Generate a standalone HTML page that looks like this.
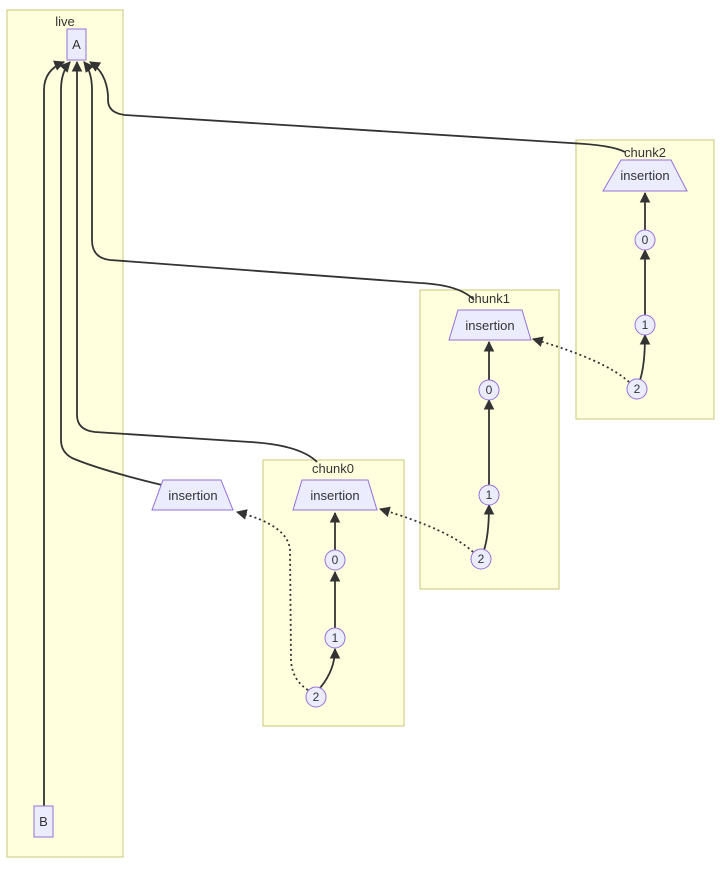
<!DOCTYPE html>
<html><head><meta charset="utf-8"><style>
html,body{margin:0;padding:0;background:#fff;}
svg{display:block;}
text{font-family:"Liberation Sans",sans-serif;fill:#333;}
.cl{fill:#ffffde;stroke:#c8c87a;stroke-width:1;}
.nd{fill:#ececff;stroke:#9370db;stroke-width:1;}
.e{fill:none;stroke:#333;stroke-width:1.8;}
.d{fill:none;stroke:#333;stroke-width:1.8;stroke-dasharray:2 3;}
</style></head><body>
<svg width="723" height="869" viewBox="0 0 723 869" xmlns="http://www.w3.org/2000/svg">
<defs>
<marker id="ar" viewBox="0 0 10 10" refX="9" refY="5" markerWidth="6" markerHeight="6" orient="auto"><path d="M0,0L10,5L0,10z" fill="#333"/></marker>
</defs>
<rect class="cl" x="7" y="10" width="116" height="847"/>
<text x="65" y="26" font-size="13" text-anchor="middle">live</text>
<rect class="cl" x="263" y="460" width="141" height="266"/>
<rect class="cl" x="420" y="290" width="139" height="299"/>
<rect class="cl" x="576" y="140" width="138" height="279"/>
<path class="e" d="M44,806 L44,90 Q44,70 64,62" marker-end="url(#ar)"/>
<path class="e" d="M162,485 Q100,470 72,458 Q61,452 61,440 L61,90 Q61,72 70,62" marker-end="url(#ar)"/>
<path class="e" d="M317,462 Q300,445 250,442 L95,432 Q77,430 77,415 L77,62" marker-end="url(#ar)"/>
<path class="e" d="M474,300 Q460,285 420,283 L110,260 Q92,258 92,240 L92,90 Q92,72 84,62" marker-end="url(#ar)"/>
<path class="e" d="M625,152 Q612,145 570,143 L125,115 Q108,113 108,100 L108,95 Q106,72 90,62" marker-end="url(#ar)"/>
<rect class="nd" x="67" y="29" width="19" height="31"/>
<text x="76.5" y="49" font-size="13" text-anchor="middle">A</text>
<rect class="nd" x="34" y="806" width="19" height="31"/>
<text x="43.5" y="826" font-size="13" text-anchor="middle">B</text>
<polygon class="nd" points="163,480 221,480 233,510 152,510"/>
<text x="193" y="500" font-size="13" text-anchor="middle">insertion</text>
<path class="e" d="M335,551 L335,513" marker-end="url(#ar)"/>
<path class="e" d="M335,629 L335,572" marker-end="url(#ar)"/>
<path class="e" d="M320,688 Q335,670 335,649" marker-end="url(#ar)"/>
<path class="d" d="M308,690 Q292,680 291,660 L290,550 Q288,525 237,512" marker-end="url(#ar)"/>
<polygon class="nd" points="302,480 368,480 377,510 293,510"/>
<text x="333" y="473" font-size="13" text-anchor="middle">chunk0</text>
<text x="335" y="500" font-size="13" text-anchor="middle">insertion</text>
<circle class="nd" cx="335" cy="560" r="10"/><text x="335" y="564" font-size="12" text-anchor="middle">0</text>
<circle class="nd" cx="335" cy="638" r="10"/><text x="335" y="642" font-size="12" text-anchor="middle">1</text>
<circle class="nd" cx="316" cy="697" r="10"/><text x="316" y="701" font-size="12" text-anchor="middle">2</text>
<path class="e" d="M489,381 L489,342" marker-end="url(#ar)"/>
<path class="e" d="M489,486 L489,400" marker-end="url(#ar)"/>
<path class="e" d="M484,550 Q489,535 489,505" marker-end="url(#ar)"/>
<path class="d" d="M473,552 Q450,530 380,509" marker-end="url(#ar)"/>
<polygon class="nd" points="458,310 522,310 531,340 449,340"/>
<text x="489" y="303" font-size="13" text-anchor="middle">chunk1</text>
<text x="490" y="330" font-size="13" text-anchor="middle">insertion</text>
<circle class="nd" cx="489" cy="390" r="10"/><text x="489" y="394" font-size="12" text-anchor="middle">0</text>
<circle class="nd" cx="489" cy="495" r="10"/><text x="489" y="499" font-size="12" text-anchor="middle">1</text>
<circle class="nd" cx="481" cy="559" r="10"/><text x="481" y="563" font-size="12" text-anchor="middle">2</text>
<path class="e" d="M645,231 L645,193" marker-end="url(#ar)"/>
<path class="e" d="M645,316 L645,250" marker-end="url(#ar)"/>
<path class="e" d="M640,380 Q645,365 645,335" marker-end="url(#ar)"/>
<path class="d" d="M629,382 Q605,360 533,339" marker-end="url(#ar)"/>
<polygon class="nd" points="621,160 671,160 687,191 603,191"/>
<text x="645" y="157" font-size="13" text-anchor="middle">chunk2</text>
<text x="645" y="180" font-size="13" text-anchor="middle">insertion</text>
<circle class="nd" cx="645" cy="240" r="10"/><text x="645" y="244" font-size="12" text-anchor="middle">0</text>
<circle class="nd" cx="645" cy="325" r="10"/><text x="645" y="329" font-size="12" text-anchor="middle">1</text>
<circle class="nd" cx="637" cy="389" r="10"/><text x="637" y="393" font-size="12" text-anchor="middle">2</text>
</svg>
</body></html>
